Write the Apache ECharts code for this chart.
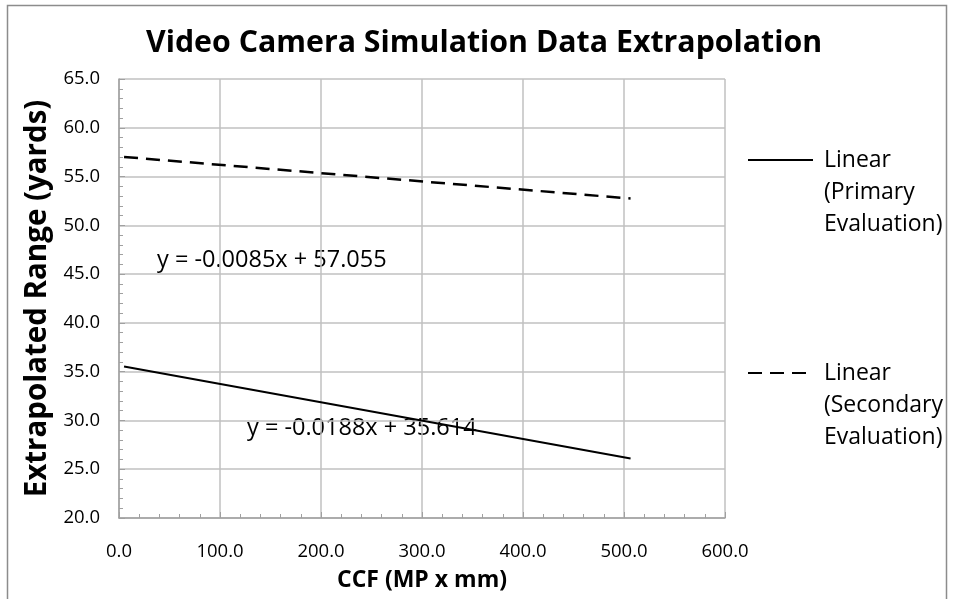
<!DOCTYPE html>
<html><head><meta charset="utf-8">
<script src="https://cdn.jsdelivr.net/npm/echarts@6/dist/echarts.min.js"></script>
<style>html,body{margin:0;padding:0;background:#fff}#c{width:954px;height:599px}</style>
</head><body><div id="c"></div>
<script>
const ccf = [5, 506.5];
const primary = [35.52, 26.09];
const secondary = [57.01, 52.75];
const seriesNames = ['Linear\n(Primary\nEvaluation)', 'Linear\n(Secondary\nEvaluation)'];
const eqLabels = ['y = -0.0085x + 57.055', 'y = -0.0188x + 35.614'];
const FONT = 'Open Sans';

const chart = echarts.init(document.getElementById('c'));
chart.setOption({
  animation: false,
  backgroundColor: '#fff',
  title: {
    text: 'Video Camera Simulation Data Extrapolation',
    left: 141, top: 23,
    textStyle: {fontFamily: FONT, fontWeight: 'bold', fontSize: 30.3, color: '#000'}
  },
  grid: {left: 119, right: 229, top: 79, bottom: 81},
  legend: {
    orient: 'vertical', left: 747, top: 80, padding: 0,
    itemWidth: 65, itemHeight: 10, itemGap: 53,
    itemStyle: {opacity: 0},
    formatter: name => '\n\n' + name.split('\n').map(s => ' ' + s).join('\n'),
    textStyle: {fontFamily: FONT, fontSize: 23, color: '#000', lineHeight: 32},
    data: seriesNames
  },
  xAxis: {
    type: 'value', min: 0, max: 600, interval: 100,
    name: 'CCF (MP x mm)', nameLocation: 'middle', nameGap: 51,
    nameTextStyle: {fontFamily: FONT, fontWeight: 'bold', fontSize: 23, color: '#000'},
    axisLine: {lineStyle: {color: '#a0a0a0', width: 1.5}},
    axisTick: {show: true, inside: true, length: 6, lineStyle: {color: '#a0a0a0'}},
    minorTick: {show: true, splitNumber: 5, length: 4, lineStyle: {color: '#a0a0a0'}},
    axisLabel: {fontFamily: FONT, fontSize: 18.5, color: '#000', margin: 24, formatter: v => v.toFixed(1)},
    splitLine: {lineStyle: {color: '#c0c0c0', width: 1.5}}
  },
  yAxis: {
    type: 'value', min: 20, max: 65, interval: 5,
    name: 'Extrapolated Range (yards)', nameLocation: 'middle', nameGap: 60,
    nameTextStyle: {fontFamily: FONT, fontWeight: 'bold', fontSize: 29.5, color: '#000'},
    axisLine: {show: true, lineStyle: {color: '#a0a0a0', width: 1.5}},
    axisTick: {show: true, inside: true, length: 6, lineStyle: {color: '#a0a0a0'}},
    minorTick: {show: true, splitNumber: 5, length: 4, lineStyle: {color: '#a0a0a0'}},
    axisLabel: {fontFamily: FONT, fontSize: 18.5, color: '#000', margin: 19, formatter: v => v.toFixed(1)},
    splitLine: {lineStyle: {color: '#c0c0c0', width: 1.5}}
  },
  series: [
    {
      name: seriesNames[0], type: 'line', showSymbol: false, symbol: 'none',
      data: ccf.map((x, i) => [x, primary[i]]),
      lineStyle: {color: '#000', width: 2, type: 'solid'}, itemStyle: {color: '#000'}
    },
    {
      name: seriesNames[1], type: 'line', showSymbol: false, symbol: 'none',
      data: ccf.map((x, i) => [x, secondary[i]]),
      lineStyle: {color: '#000', width: 2.5, type: [14, 8]}, itemStyle: {color: '#000'}
    }
  ],
  graphic: [
    {type: 'rect', shape: {x: 7.5, y: 5.5, width: 939, height: 600}, style: {fill: 'none', stroke: '#8c8c8c', lineWidth: 1.5}, silent: true, z: -1},
    {type: 'text', x: 157, y: 260, style: {text: eqLabels[0], fontFamily: FONT, fontSize: 23.5, fill: '#000', verticalAlign: 'middle'}},
    {type: 'text', x: 247, y: 428, style: {text: eqLabels[1], fontFamily: FONT, fontSize: 23.5, fill: '#000', verticalAlign: 'middle'}}
  ]
});
</script></body></html>
